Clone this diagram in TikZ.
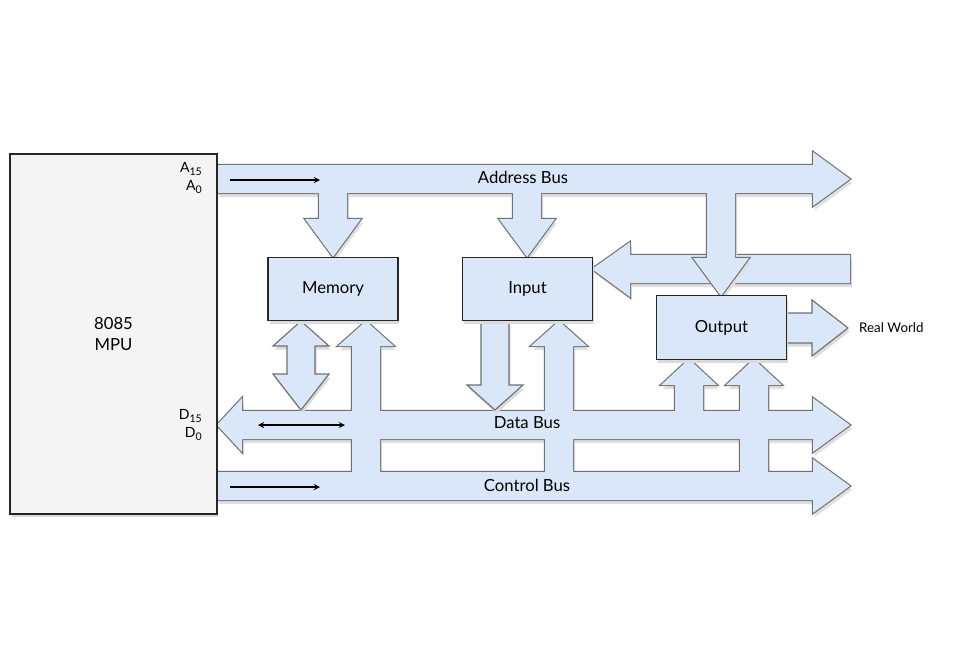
\documentclass[tikz,border=0pt]{standalone}
\usepackage{fontspec}
\setmainfont{Lato}
\usetikzlibrary{shadows}
\definecolor{busfill}{HTML}{DAE7F8}
\definecolor{busline}{HTML}{707070}
\definecolor{cpufill}{HTML}{F4F4F4}

\begin{document}
\begin{tikzpicture}[
	x=0.02cm, y=-0.02cm,
	busshadow/.style={fill=black!12, shift={(2,4)}},
	busrim/.style={draw=busline, line width=1.3pt, fill=busfill},
	busbody/.style={fill=busfill},
	softshadow/.style={drop shadow={fill=black!14, opacity=1, shadow xshift=0.03cm, shadow yshift=-0.07cm}},
	blockarrow/.style={draw=busline, line width=0.65pt, fill=busfill, softshadow},
	unit/.style={
		rectangle,
		draw=black!85,
		line width=0.8pt,
		fill=busfill,
		minimum width=2.6cm,
		minimum height=1.27cm,
		font=\fontsize{9.5}{11}\selectfont,
		softshadow
	},
	buslabel/.style={font=\fontsize{9.5}{11}\selectfont},
	pin/.style={font=\fontsize{8}{9}\selectfont, anchor=east, inner sep=0pt},
	arrow/.style={-stealth, line width=0.6pt}
]
\useasboundingbox (0,0) rectangle (956,670);

% Bus de entrada hacia Input
\foreach \layer in {busshadow,busrim,busbody}{
	\path[\layer] (850,255) -- (630,255) -- (630,242) -- (592,269) -- (630,297) -- (630,283) -- (850,283) -- cycle;
}

% Address Bus y ramas hacia abajo
\foreach \layer in {busshadow,busrim,busbody}{
	\path[\layer] (217,165) -- (813,165) -- (813,152) -- (850,179) -- (813,206) -- (813,193) -- (217,193) -- cycle;
	\path[\layer] (319,185) -- (319,219) -- (305,219) -- (333,257) -- (361,219) -- (347,219) -- (347,185) -- cycle;
	\path[\layer] (513,185) -- (513,219) -- (499,219) -- (527,257) -- (555,219) -- (541,219) -- (541,185) -- cycle;
	\path[\layer] (707,185) -- (707,258) -- (693,258) -- (721,296) -- (749,258) -- (735,258) -- (735,185) -- cycle;
}

% Data Bus, Control Bus y ramas hacia arriba
\foreach \layer in {busshadow,busrim,busbody}{
	\path[\layer] (217,425) -- (242,398) -- (242,411) -- (813,411) -- (813,398) -- (850,425) -- (813,452) -- (813,439) -- (242,439) -- (242,452) -- cycle;
	\path[\layer] (217,472) -- (813,472) -- (813,459) -- (850,486) -- (813,513) -- (813,500) -- (217,500) -- cycle;
	\path[\layer] (352,480) -- (352,346) -- (338,346) -- (366,321) -- (394,346) -- (380,346) -- (380,480) -- cycle;
	\path[\layer] (545,480) -- (545,346) -- (531,346) -- (559,321) -- (587,346) -- (573,346) -- (573,480) -- cycle;
	\path[\layer] (675,420) -- (675,385) -- (661,385) -- (689,359) -- (717,385) -- (703,385) -- (703,420) -- cycle;
	\path[\layer] (740,480) -- (740,385) -- (726,385) -- (754,359) -- (782,385) -- (768,385) -- (768,480) -- cycle;
}

% Flechas sueltas
\path[blockarrow] (301,321) -- (329,346) -- (315,346) -- (315,374) -- (329,374) -- (301,410) -- (273,374) -- (287,374) -- (287,346) -- (273,346) -- cycle;
\path[blockarrow] (481,321) -- (481,385) -- (467,385) -- (495,410) -- (523,385) -- (509,385) -- (509,321) -- cycle;
\path[blockarrow] (786,313) -- (812,313) -- (812,300) -- (848,328) -- (812,356) -- (812,343) -- (786,343) -- cycle;

% Bloques
\node[unit] (memory) at (333,289) {Memory};
\node[unit] (input) at (527.5,289) {Input};
\node[unit] (output) at (721.5,327.5) {Output};
\node[rectangle, draw=black!85, line width=0.8pt, fill=cpufill, minimum width=4.14cm, minimum height=7.2cm,
	align=center, font=\fontsize{9.5}{11.5}\selectfont, softshadow] (mpu) at (113.5,334) {8085\\MPU};

% Rotulos
\node[buslabel] (addrlabel) at (523,177) {Address Bus};
\node[buslabel] (datalabel) at (527,423) {Data Bus};
\node[buslabel] (ctrllabel) at (527,485) {Control Bus};
\node[font=\fontsize{7.6}{9}\selectfont, anchor=west] (world) at (853,328) {Real World};
\node[pin] (a15) at (203,169) {A\textsubscript{15}};
\node[pin] (a0) at (203,187) {A\textsubscript{0}};
\node[pin] (d15) at (203,416) {D\textsubscript{15}};
\node[pin] (d0) at (203,434) {D\textsubscript{0}};

% Flechas de sentido
\coordinate (addrfrom) at (230,180);
\coordinate (addrto) at (320,180);
\coordinate (datafrom) at (258,425);
\coordinate (datato) at (345,425);
\coordinate (ctrlfrom) at (230,487);
\coordinate (ctrlto) at (320,487);
\draw[arrow] (addrfrom) -- (addrto);
\draw[arrow, stealth-stealth] (datafrom) -- (datato);
\draw[arrow] (ctrlfrom) -- (ctrlto);

\end{tikzpicture}
\end{document}
